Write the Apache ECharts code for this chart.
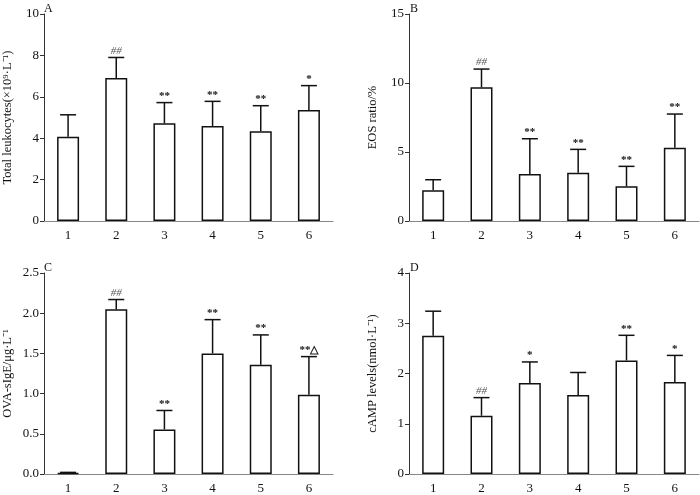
<!DOCTYPE html>
<html>
<head>
<meta charset="utf-8">
<script src="https://cdn.jsdelivr.net/npm/echarts@6/dist/echarts.min.js"></script>
<style>
  html, body { margin: 0; padding: 0; background: #fff; }
  #chart { width: 700px; height: 495px; }
</style>
</head>
<body>
<div id="chart"></div>
<script>
// group labels
var groups = ["1", "2", "3", "4", "5", "6"];

// A: total leukocytes
var leukMean = [4.07, 6.91, 4.72, 4.59, 4.33, 5.36];
var leukSd = [1.06, 0.99, 1.0, 1.19, 1.24, 1.18];
var leukMarks = ["", "##", "**", "**", "**", "*"];

// B: EOS ratio
var eosMean = [2.22, 9.69, 3.41, 3.5, 2.51, 5.31];
var eosSd = [0.77, 1.32, 2.55, 1.69, 1.45, 2.44];
var eosMarks = ["", "##", "**", "**", "**", "**"];

// C: OVA-sIgE
var igeMean = [0.015, 2.05, 0.555, 1.5, 1.36, 0.985];
var igeSd = [0.005, 0.12, 0.235, 0.42, 0.37, 0.475];
var igeMarks = ["", "##", "**", "**", "**", "**△"];

// D: cAMP
var campMean = [2.75, 1.16, 1.81, 1.57, 2.26, 1.83];
var campSd = [0.49, 0.36, 0.42, 0.45, 0.5, 0.53];
var campMarks = ["", "##", "*", "", "**", "*"];

var FONT = "Liberation Serif, Times New Roman, serif";

var panels = [
  { tag: "A", name: "Total leukocytes(×10⁹·L⁻¹)", max: 10, step: 2, dec: 0, mean: leukMean, sd: leukSd, marks: leukMarks, left: 43, top: 14 },
  { tag: "B", name: "EOS ratio/%", max: 15, step: 5, dec: 0, mean: eosMean, sd: eosSd, marks: eosMarks, left: 409, top: 14 },
  { tag: "C", name: "OVA-sIgE/μg·L⁻¹", max: 2.5, step: 0.5, dec: 1, mean: igeMean, sd: igeSd, marks: igeMarks, left: 43, top: 273 },
  { tag: "D", name: "cAMP levels(nmol·L⁻¹)", max: 4, step: 1, dec: 0, mean: campMean, sd: campSd, marks: campMarks, left: 409, top: 273 }
];

var grids = [], xAxes = [], yAxes = [], series = [], titles = [];

panels.forEach(function (p, k) {
  grids.push({ left: p.left, top: p.top, width: 290, height: 207 });
  titles.push({
    text: p.tag, left: p.left - 4, top: p.top - 16,
    textStyle: { fontFamily: FONT, fontSize: 12, fontWeight: "normal", color: "#111" }
  });
  xAxes.push({
    type: "category", gridIndex: k, data: groups,
    axisLine: { lineStyle: { color: "#888", width: 1.2 } },
    axisTick: { show: false },
    axisLabel: { color: "#111", fontFamily: FONT, fontSize: 13, margin: 8 }
  });
  yAxes.push({
    type: "value", gridIndex: k, min: 0, max: p.max, interval: p.step,
    name: p.name, nameLocation: "middle", nameGap: 30,
    nameTextStyle: { color: "#111", fontFamily: FONT, fontSize: 12.5 },
    axisLine: { show: true, lineStyle: { color: "#333", width: 1 } },
    axisTick: { show: true, length: 4, lineStyle: { color: "#333" } },
    splitLine: { show: false },
    axisLabel: {
      color: "#111", fontFamily: FONT, fontSize: 13, margin: 5,
      formatter: function (v) { return v.toFixed(p.dec); }
    }
  });
  series.push({
    type: "bar", xAxisIndex: k, yAxisIndex: k, data: p.mean, barWidth: 22,
    itemStyle: { color: "#fff", borderColor: "#111", borderWidth: 1.5 },
    z: 2
  });
  var errData = p.mean.map(function (m, i) { return [i, m, m + p.sd[i]]; });
  series.push({
    type: "custom", xAxisIndex: k, yAxisIndex: k, data: errData, z: 3,
    renderItem: function (params, api) {
      var base = api.coord([api.value(0), api.value(1)]);
      var top = api.coord([api.value(0), api.value(2)]);
      var mark = p.marks[params.dataIndex];
      var children = [
        { type: "line", shape: { x1: base[0], y1: base[1], x2: top[0], y2: top[1] }, style: { stroke: "#111", lineWidth: 1.5 } },
        { type: "line", shape: { x1: top[0] - 8, y1: top[1], x2: top[0] + 8, y2: top[1] }, style: { stroke: "#111", lineWidth: 1.5 } }
      ];
      if (mark) {
        var hash = mark === "##";
        children.push({
          type: "text",
          style: {
            text: mark, x: top[0], y: top[1] - 1,
            textAlign: "center", textVerticalAlign: "bottom",
            fill: hash ? "#555" : "#111",
            font: (hash ? "italic 11px " : "bold 11px ") + FONT
          }
        });
      }
      return { type: "group", children: children };
    }
  });
});

var chart = echarts.init(document.getElementById("chart"), null, { renderer: "canvas" });
chart.setOption({
  backgroundColor: "#fff",
  animation: false,
  title: titles,
  grid: grids,
  xAxis: xAxes,
  yAxis: yAxes,
  series: series
});
window.addEventListener("resize", chart.resize);
</script>
</body>
</html>
